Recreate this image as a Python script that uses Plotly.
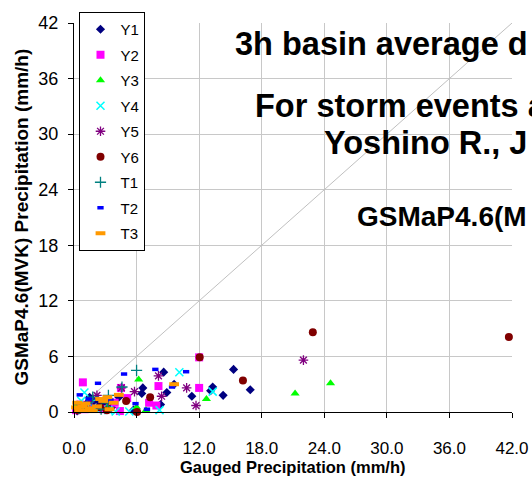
import plotly.graph_objects as go

# ---- data ----
series_names = ["Y1", "Y2", "Y3", "Y4", "Y5", "Y6", "T1", "T2", "T3"]

y1_x = [8.6, 8.9, 9.6, 6.6, 6.5, 15.3, 13.3, 13.1, 14.3, 16.9, 11.3, 8.3, 3.0, 2.5, 1.8, 1.2, 0.8, 0.5, 3.6, 4.3, 2.2, 1.5, 0.3, 5.7, 1.9, 2.7]
y1_y = [4.3, 2.1, 3.0, 2.6, 2.0, 4.6, 2.7, 2.3, 1.8, 2.4, 1.7, 0.8, 1.2, 1.0, 1.3, 0.9, 0.6, 0.3, 0.5, 1.6, 0.4, 1.6, 0.1, 0.2, 1.2, 0.8]

y2_x = [0.85, 4.5, 8.1, 12.0, 12.0, 4.4, 7.2, 7.9, 3.9, 2.8, 1.4, 0.2, 0.6, 5.1, 1.0, 0.3]
y2_y = [3.2, 2.6, 2.8, 2.6, 5.9, 0.1, 1.0, 0.7, 1.0, 0.3, 0.5, 0.2, 0.8, 1.5, 0.3, 0.6]

y3_x = [6.2, 12.7, 21.2, 24.6, 6.9, 6.0, 0.3, 1.2, 3.2, 0.4]
y3_y = [3.5, 1.4, 2.0, 3.1, 0.2, 0.5, 0.8, 0.2, 0.5, 0.6]

y4_x = [10.1, 5.3, 13.3, 8.2, 1.0, 2.0, 0.7, 4.0, 1.6, 3.3]
y4_y = [4.3, 0.05, 2.2, 0.2, 2.1, 0.4, 1.2, 0.05, 0.9, 0.2]

y5_x = [4.55, 5.8, 8.1, 8.4, 10.8, 11.7, 2.2, 22.0, 3.3, 1.5, 0.6]
y5_y = [2.6, 2.2, 3.9, 1.7, 2.6, 0.7, 1.8, 5.6, 1.2, 1.1, 0.4]

y6_x = [12.05, 16.2, 7.3, 5.0, 6.05, 3.15, 3.2, 22.9, 41.7, 2.5, 1.0, 0.4]
y6_y = [5.9, 3.4, 1.6, 1.2, 0.0, 0.2, 1.3, 8.6, 8.1, 0.5, 0.4, 0.2]

t1_x = [6.0, 4.6, 3.3, 1.8, 1.2, 0.5, 2.6, 3.2]
t1_y = [4.5, 2.7, 1.8, 1.6, 1.0, 0.4, 0.3, 1.0]

t2_x = [4.8, 7.8, 2.3, 10.75, 9.4, 0.55, 7.0, 1.4, 3.5, 2.0, 0.3, 5.9]
t2_y = [4.1, 4.6, 3.1, 4.35, 2.7, 1.85, 0.3, 1.4, 1.3, 0.6, 1.0, 0.9]

t3_x = [9.6, 3.2, 4.3, 0.3, 0.8, 1.5, 2.2, 2.8, 0.5, 1.1, 1.8, 0.2, 3.4, 2.5, 3.8, 1.3]
t3_y = [3.0, 1.6, 1.85, 1.0, 0.6, 0.4, 0.6, 1.2, 0.2, 0.9, 0.1, 0.5, 0.3, 1.4, 1.0, 0.15]

one_to_one = [0, 42]

x_ticks = [0, 6, 12, 18, 24, 30, 36, 42]
x_tick_labels = ["0.0", "6.0", "12.0", "18.0", "24.0", "30.0", "36.0", "42.0"]
y_ticks = [0, 6, 12, 18, 24, 30, 36, 42]
y_tick_labels = ["0", "6", "12", "18", "24", "30", "36", "42"]

# title lines as far as they are visible in the (cropped) reference
title_lines = ["3h basin average d", "For storm events a", "Yoshino R., J", "GSMaP4.6(M"]

# ---- styles ----
FONT = "Liberation Sans, Arial, sans-serif"
styles = {
    "Y1": dict(symbol="diamond", size=7, color="#000080", line=dict(width=0)),
    "Y2": dict(symbol="square", size=8, color="#FF00FF", line=dict(width=0)),
    "Y3": dict(symbol="triangle-up", size=8, color="#00FF00", line=dict(width=0)),
    "Y4": dict(symbol="x-thin-open", size=8, color="#00FFFF", line=dict(width=1.5, color="#00FFFF")),
    "Y5": dict(symbol="asterisk-open", size=8, color="#800080", line=dict(width=1.3, color="#800080")),
    "Y6": dict(symbol="circle", size=8, color="#800000", line=dict(width=0)),
    "T1": dict(symbol="cross-thin-open", size=8, color="#008080", line=dict(width=1.3, color="#008080")),
    "T2": dict(symbol="line-ew-open", size=4.5, color="#0000FF", line=dict(width=3.5, color="#0000FF")),
    "T3": dict(symbol="line-ew-open", size=7, color="#FF9900", line=dict(width=4, color="#FF9900")),
}
data = {
    "Y1": (y1_x, y1_y), "Y2": (y2_x, y2_y), "Y3": (y3_x, y3_y),
    "Y4": (y4_x, y4_y), "Y5": (y5_x, y5_y), "Y6": (y6_x, y6_y),
    "T1": (t1_x, t1_y), "T2": (t2_x, t2_y), "T3": (t3_x, t3_y),
}

fig = go.Figure()
for name in series_names:
    xs, ys = data[name]
    fig.add_trace(go.Scatter(x=xs, y=ys, mode="markers", name=name,
                             legendgroup=name, marker=styles[name],
                             cliponaxis=False))

# 1:1 line
fig.add_shape(type="line", x0=one_to_one[0], y0=one_to_one[0],
              x1=one_to_one[1], y1=one_to_one[1], xref="x", yref="y",
              line=dict(color="#C0C0C0", width=1), layer="between")

W, H = 532, 477
L, R, T, B = 73.5, 20.3, 23, 65
pw, ph = W - L - R, H - T - B

def px(xp):
    return (xp - L) / pw

def py(yp):
    return (H - B - yp) / ph

anns = []
title_pos = [(233, 43.6, 32.5), (253, 105.8, 32.5), (322, 143.3, 32.5), (355, 216.3, 28)]
for txt, (xp, yp, fs) in zip(title_lines, title_pos):
    anns.append(dict(text="<b>%s</b>" % txt, x=px(xp), y=py(yp), xref="paper", yref="paper",
                     xanchor="left", yanchor="middle", showarrow=False,
                     font=dict(family=FONT, size=fs, color="black")))
anns.append(dict(text="<b>Gauged Precipitation (mm/h)</b>", x=0.5, y=py(467.5),
                 xref="paper", yref="paper", xanchor="center", yanchor="middle",
                 showarrow=False, font=dict(family=FONT, size=16.5, color="black")))
anns.append(dict(text="<b>GSMaP4.6(MVK) Precipitation (mm/h)</b>", x=px(20), y=py(217),
                 xref="paper", yref="paper", xanchor="center", yanchor="middle",
                 textangle=-90, showarrow=False,
                 font=dict(family=FONT, size=19, color="black")))

fig.update_layout(
    width=W, height=H,
    margin=dict(l=L, r=R, t=T, b=B, pad=0, autoexpand=False),
    paper_bgcolor="white", plot_bgcolor="white",
    font=dict(family=FONT, color="black"),
    showlegend=True,
    legend=dict(x=px(79), y=py(12), xanchor="left", yanchor="top",
                bgcolor="white", bordercolor="black", borderwidth=1,
                font=dict(family=FONT, size=15, color="black"),
                tracegroupgap=3, itemwidth=30, maxheight=420),
    annotations=anns,
    xaxis=dict(range=[0, 42], tickvals=x_ticks, ticktext=x_tick_labels,
               showgrid=True, gridcolor="#C8C8C8", gridwidth=1,
               showline=True, linecolor="black", linewidth=1,
               ticks="outside", ticklen=5, tickcolor="black",
               tickfont=dict(family=FONT, size=17, color="black"),
               ticklabelstandoff=16, zeroline=False, mirror=False),
    yaxis=dict(range=[0, 42], tickvals=y_ticks, ticktext=y_tick_labels,
               showgrid=True, gridcolor="#C8C8C8", gridwidth=1,
               showline=True, linecolor="black", linewidth=1,
               ticks="outside", ticklen=5, tickcolor="black",
               tickfont=dict(family=FONT, size=18, color="black"),
               ticklabelstandoff=6, zeroline=False),
)

fig.write_html("out.html")
